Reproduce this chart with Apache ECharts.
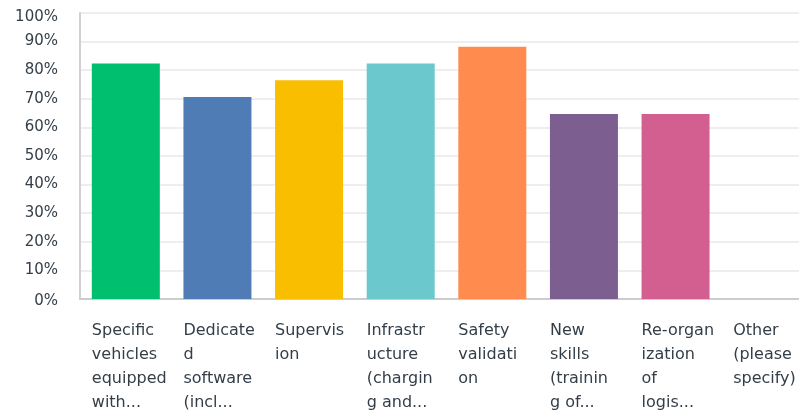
<!DOCTYPE html>
<html>
<head>
<meta charset="utf-8">
<script src="https://cdn.jsdelivr.net/npm/echarts@6/dist/echarts.min.js"></script>
<style>
html,body{margin:0;padding:0;background:#fff;}
#chart{width:799px;height:412px;}
</style>
</head>
<body>
<div id="chart"></div>
<script>
var categories = [
  "Specific\nvehicles\nequipped\nwith...",
  "Dedicate\nd\nsoftware\n(incl...",
  "Supervis\nion",
  "Infrastr\nucture\n(chargin\ng and...",
  "Safety\nvalidati\non",
  "New\nskills\n(trainin\ng of...",
  "Re-organ\nization\nof\nlogis...",
  "Other\n(please\nspecify)"
];
var values = [82.35, 70.59, 76.47, 82.35, 88.24, 64.71, 64.71, 0];
var colors = ["#00bf6f", "#507cb6", "#f9be00", "#6bc8cd", "#ff8b4f", "#7d5e90", "#d25f90", "#c68c56"];
var yTicks = [0, 10, 20, 30, 40, 50, 60, 70, 80, 90, 100];

var chart = echarts.init(document.getElementById('chart'));
var yLabelStyle = {fontFamily: 'DejaVu Sans', fontSize: 15, color: '#333e48'};
chart.setOption({
  animation: false,
  grid: {left: 80, top: 13, width: 733, height: 286, containLabel: false, outerBoundsMode: 'none'},
  xAxis: {
    type: 'category',
    data: categories,
    axisLine: {show: true, lineStyle: {color: '#cccccc', width: 2}},
    axisTick: {show: false},
    axisLabel: {
      interval: 0,
      margin: 20,
      align: 'center',
      width: 68,
      overflow: 'none',
      hideOverlap: false,
      formatter: function (v) { return '{a|' + v + '}'; },
      rich: {
        a: {
          align: 'left',
          fontFamily: 'DejaVu Sans',
          fontSize: 16,
          lineHeight: 24,
          color: '#333e48'
        }
      }
    }
  },
  yAxis: {
    type: 'value',
    min: yTicks[0],
    max: yTicks[yTicks.length - 1],
    interval: 10,
    axisLine: {show: true, lineStyle: {color: '#d0d0d0', width: 2}},
    axisTick: {show: false},
    splitLine: {show: true, lineStyle: {color: '#eeeeee', width: 2}},
    axisLabel: {
      margin: 22,
      formatter: function (v) {
        if (v === 100) return '{top|' + v + '%}';
        if (v === 0) return '{bot|' + v + '%}';
        return '{n|' + v + '%}';
      },
      rich: {
        n: yLabelStyle,
        top: Object.assign({padding: [8, 0, 0, 0]}, yLabelStyle),
        bot: Object.assign({padding: [4, 0, 0, 0]}, yLabelStyle)
      }
    }
  },
  series: [{
    type: 'bar',
    barWidth: 68,
    data: values.map(function (v, i) {
      return {value: v, itemStyle: {color: colors[i]}};
    })
  }]
});
</script>
</body>
</html>
